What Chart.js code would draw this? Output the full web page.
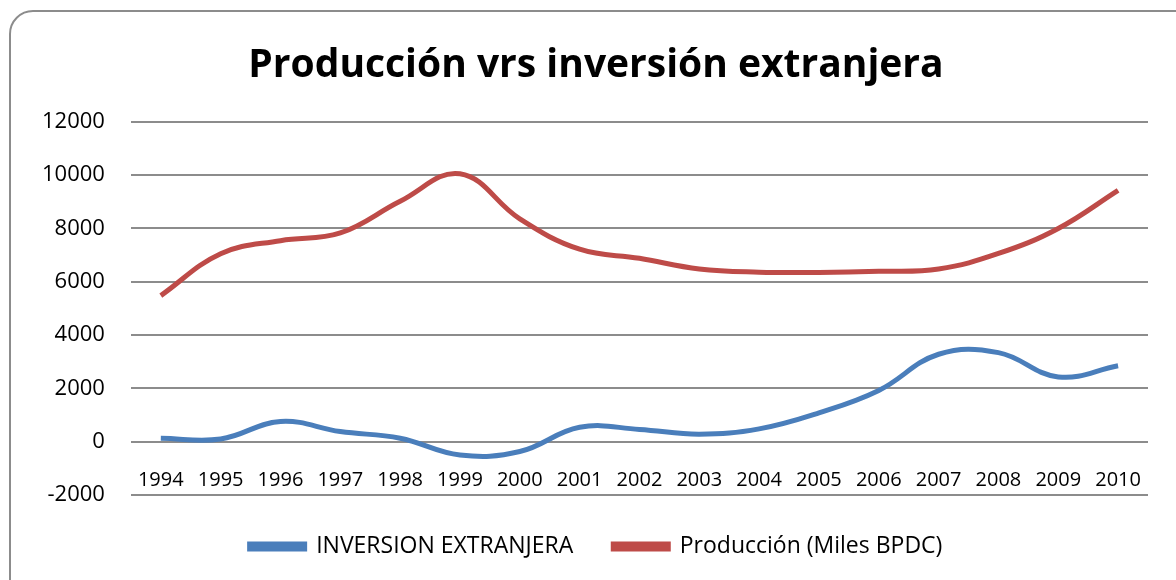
<!doctype html>
<html>
<head>
<meta charset="utf-8">
<title>Producción vrs inversión extranjera</title>
<script src="https://cdn.jsdelivr.net/npm/chart.js"></script>
<style>
  html, body { margin: 0; padding: 0; background: #fff; }
  #wrap { position: relative; width: 1176px; height: 580px; overflow: hidden; }
  /* rounded frame like the Excel chart area */
  #frame {
    position: absolute; left: 9px; top: 10px; width: 1200px; height: 600px;
    border: 2px solid #8c8c8c; border-radius: 24px; box-sizing: border-box;
  }
  canvas { position: absolute; left: 0; top: 0; }
</style>
</head>
<body>
<div id="wrap">
  <div id="frame"></div>
  <canvas id="chart" width="1176" height="580"></canvas>
</div>
<script>
// data
const years = ['1994', '1995', '1996', '1997', '1998', '1999', '2000', '2001', '2002',
               '2003', '2004', '2005', '2006', '2007', '2008', '2009', '2010'];
const inversion = [130, 100, 760, 380, 130, -500, -370, 540, 460,
                   280, 480, 1080, 1920, 3280, 3340, 2430, 2850];
const produccion = [5480, 7050, 7540, 7830, 9020, 10050, 8360, 7220, 6880,
                    6480, 6360, 6350, 6390, 6480, 7060, 8000, 9430];
const yTicks = [-2000, 0, 2000, 4000, 6000, 8000, 10000, 12000];

const ctx = document.getElementById('chart').getContext('2d');

new Chart(ctx, {
    type: 'line',
    data: {
        labels: years,
        datasets: [{
            label: 'INVERSION EXTRANJERA',
            data: inversion,
            borderColor: '#4a7ebb',
            backgroundColor: '#4a7ebb',
            borderWidth: 5,
            pointRadius: 0,
            tension: 0.4,
            fill: false
        }, {
            label: 'Producción (Miles BPDC)',
            data: produccion,
            borderColor: '#be4b48',
            backgroundColor: '#be4b48',
            borderWidth: 5,
            pointRadius: 0,
            tension: 0.4,
            fill: false
        }]
    },
    options: {
        responsive: false,
        animation: false,
        layout: { padding: { left: 44, right: 28, top: 14, bottom: 12 } },
        plugins: {
            title: {
                display: true,
                text: 'Producción vrs inversión extranjera',
                color: '#000',
                font: { family: 'Open Sans', size: 39, weight: 'bold' },
                padding: { top: 28, bottom: 33 }
            },
            legend: {
                position: 'bottom',
                labels: {
                    color: '#000',
                    font: { family: 'Open Sans', size: 23 },
                    boxWidth: 55,
                    boxHeight: 5,
                    padding: 40
                }
            },
            tooltip: { enabled: false }
        },
        scales: {
            x: {
                // year labels sit under the zero line, as in the Excel chart
                position: { y: 0 },
                offset: true,
                grid: { display: false, drawTicks: true, tickLength: 27 },
                border: { display: false },
                ticks: {
                    color: '#000',
                    padding: 0,
                    maxRotation: 0,
                    autoSkip: false,
                    font: { family: 'Open Sans', size: 20 }
                }
            },
            y: {
                min: yTicks[0],
                max: yTicks[yTicks.length - 1],
                afterBuildTicks: axis => { axis.ticks = yTicks.map(v => ({ value: v })); },
                // trim the spare room left of the tick labels
                afterFit: axis => { axis.width -= 28; },
                grid: { color: '#8c8c8c', lineWidth: 2, drawTicks: false },
                border: { display: false },
                ticks: {
                    color: '#000',
                    padding: 26,
                    font: { family: 'Open Sans', size: 22 },
                    callback: v => String(v)
                }
            }
        }
    }
});
</script>
</body>
</html>
